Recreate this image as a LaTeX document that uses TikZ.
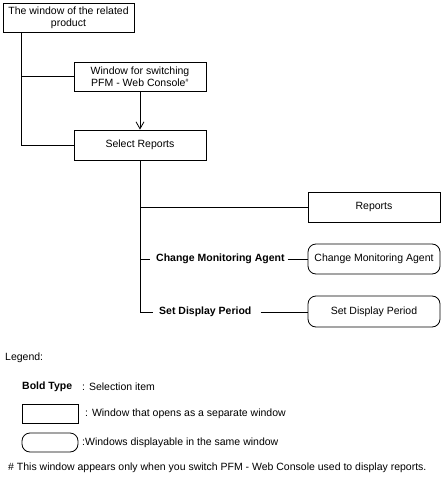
\documentclass[tikz,border=0pt]{standalone}
\usepackage{fontspec}
\setmainfont{Liberation Sans}
\usetikzlibrary{arrows.meta}
\begin{document}
\begin{tikzpicture}[x=1pt,y=-1pt,
  every node/.style={font=\fontsize{10.5}{12.2}\selectfont},
  win/.style={draw,line width=0.8pt,minimum width=132pt,minimum height=30pt,inner sep=0pt,align=center},
  same/.style={win,rounded corners=8pt},
  lbl/.style={font=\fontsize{10.5}{12.2}\selectfont\bfseries,inner sep=0pt},
  txt/.style={inner sep=0pt,anchor=west},
  con/.style={line width=0.8pt}]
\useasboundingbox (0,0) rectangle (443,478);
% nodes
\node[win,minimum width=131pt,minimum height=29pt] (rel) at (68.5,17.5) {The window of the related\\product};
\node[win,minimum height=29pt] (sw) at (140,76.5) {Window for switching\\PFM - Web Console\textsuperscript{\tiny\#}};
\node[win] (sel) at (140,145) {Select Reports};
\node[win] (rep) at (374,207) {Reports};
\node[same] (cma) at (374,259) {Change Monitoring Agent};
\node[same,minimum height=31pt] (sdp) at (374,311.5) {Set Display Period};
\node[lbl,anchor=west] (lcma) at (156,259) {Change Monitoring Agent};
\node[lbl,anchor=west] (lsdp) at (159,312) {Set Display Period};
% junctions
\coordinate (j1) at (21,76.5);
\coordinate (j2) at (21,145);
\coordinate (b1) at (140,207);
\coordinate (b2) at (140,259);
\coordinate (b3) at (140,312);
% connectors
\draw[con] (rel.south -| j1) -- (j2) -- (sel.west);
\draw[con] (j1) -- (sw.west);
\draw[con,-{Straight Barb[length=7pt,width=8pt,line width=0.8pt]}] (sw) -- (sel);
\draw[con] (sel.south) -- (b3) -- ([xshift=-6pt]lsdp.west);
\draw[con] (b1) -- (rep.west);
\draw[con] (b2) -- ([xshift=-6pt]lcma.west);
\draw[con] ([xshift=3pt]lcma.east) -- (cma.west);
\draw[con] ([xshift=9pt]lsdp.east) -- (sdp.west |- lsdp.east);
% legend
\node[txt] (leg) at (5,358) {Legend:};
\node[lbl,anchor=west] (bt) at (22,387) {Bold Type};
\node[txt] (btx) at (82,387) {: Selection item};
\node[draw,line width=0.8pt,minimum width=56pt,minimum height=19pt,inner sep=0pt] (lw) at (50,413.5) {};
\node[txt] (lwx) at (85,413.5) {: Window that opens as a separate window};
\node[draw,line width=0.8pt,rounded corners=8pt,minimum width=56pt,minimum height=19pt,inner sep=0pt] (ls) at (50,442.5) {};
\node[txt] (lsx) at (82,442.5) {:Windows displayable in the same window};
\node[txt] (note) at (8,468) {\# This window appears only when you switch PFM - Web Console used to display reports.};
\end{tikzpicture}
\end{document}
